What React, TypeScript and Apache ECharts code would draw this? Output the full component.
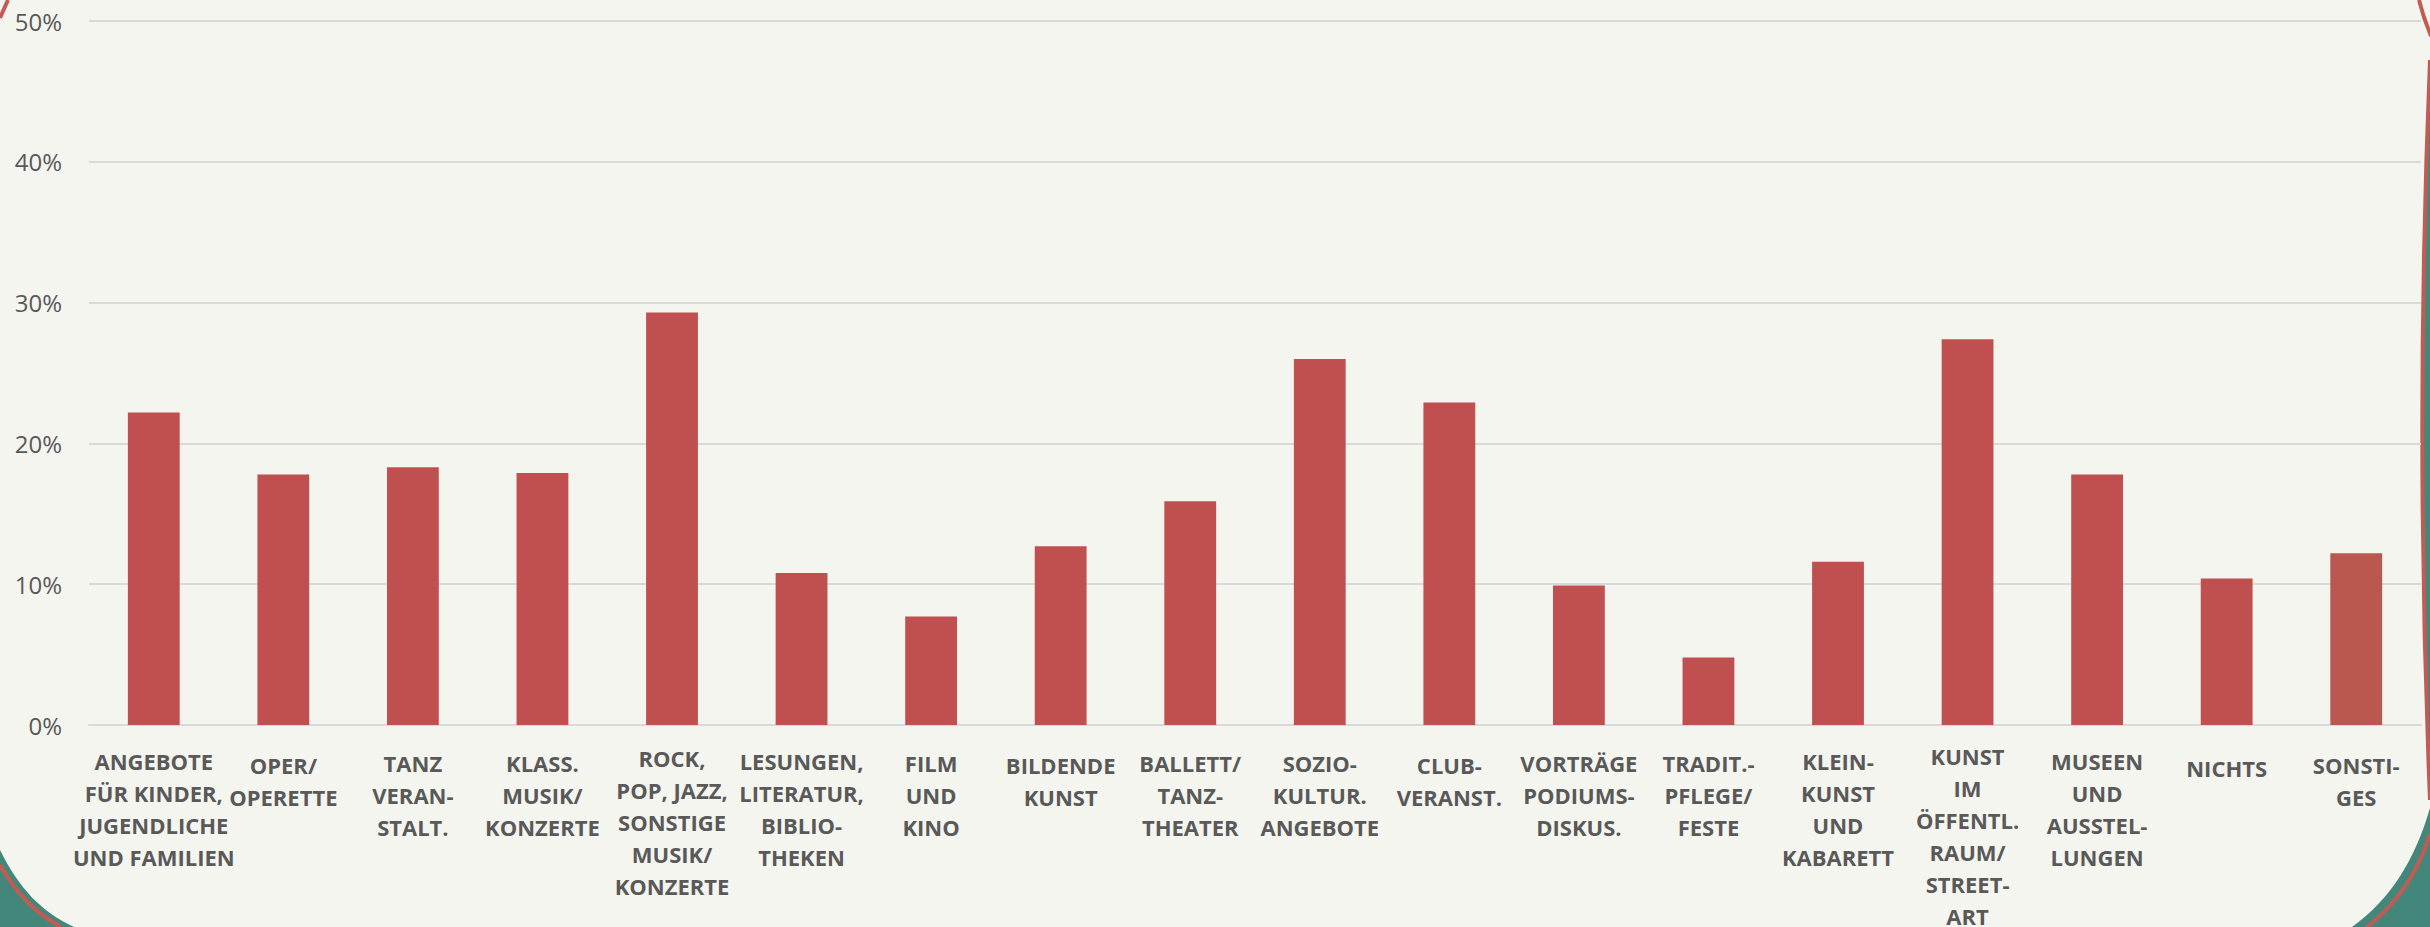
import React, { useEffect, useRef } from "react";
import * as echarts from "echarts";

const categories: string[] = [
  "ANGEBOTE\nFÜR KINDER,\nJUGENDLICHE\nUND FAMILIEN",
  "OPER/\nOPERETTE",
  "TANZ\nVERAN-\nSTALT.",
  "KLASS.\nMUSIK/\nKONZERTE",
  "ROCK,\nPOP, JAZZ,\nSONSTIGE\nMUSIK/\nKONZERTE",
  "LESUNGEN,\nLITERATUR,\nBIBLIO-\nTHEKEN",
  "FILM\nUND\nKINO",
  "BILDENDE\nKUNST",
  "BALLETT/\nTANZ-\nTHEATER",
  "SOZIO-\nKULTUR.\nANGEBOTE",
  "CLUB-\nVERANST.",
  "VORTRÄGE\nPODIUMS-\nDISKUS.",
  "TRADIT.-\nPFLEGE/\nFESTE",
  "KLEIN-\nKUNST\nUND\nKABARETT",
  "KUNST\nIM\nÖFFENTL.\nRAUM/\nSTREET-\nART",
  "MUSEEN\nUND\nAUSSTEL-\nLUNGEN",
  "NICHTS",
  "SONSTI-\nGES",
];

const values: number[] = [
  22.2, 17.8, 18.3, 17.9, 29.3, 10.8, 7.7, 12.7, 15.9, 26.0, 22.9, 9.9, 4.8, 11.6, 27.4, 17.8, 10.4, 12.2,
];

const yTicks: number[] = [0, 10, 20, 30, 40, 50];

const BAR = "#C0504F";
const BAR_LAST = "#B95750";
const TEAL = "#43877B";
const RED_LINE = "#C25B53";
const BG = "#F5F5F0";

let registered = false;
function registerShapes() {
  if (registered) return;
  registered = true;
  echarts.graphic.registerShape(
    "tealBL",
    echarts.graphic.extendPath("M0 850 C 20 890 42 912 74 927 L 0 927 Z", {})
  );
  echarts.graphic.registerShape(
    "tealBR",
    echarts.graphic.extendPath("M2430 808 C 2415 860 2390 900 2352 927 L 2430 927 Z", {})
  );
  echarts.graphic.registerShape(
    "tealR",
    echarts.graphic.extendPath("M2430 60 Q 2416 420 2430 800 Z", {})
  );
}

export default function App() {
  const ref = useRef<HTMLDivElement>(null);
  useEffect(() => {
    if (!ref.current) return;
    registerShapes();
    const chart = echarts.init(ref.current, undefined, { renderer: "svg" });
    const maxLines = Math.max(...categories.map((c) => c.split("\n").length));
    const catData = categories.map((c) => {
      const n = c.split("\n").length;
      return {
        value: c,
        textStyle: { padding: [Math.round((maxLines - n) * 2.3), 0, 0, 0] },
      };
    });
    chart.setOption({
      animation: false,
      backgroundColor: BG,
      grid: {
        left: 89,
        right: 9,
        top: 21,
        bottom: 202,
        containLabel: false,
        outerBoundsMode: "none",
      },
      xAxis: {
        type: "category",
        data: catData,
        axisLine: { show: true, lineStyle: { color: "#D9D9D9", width: 2 } },
        axisTick: { show: false },
        axisLabel: {
          interval: 0,
          margin: 15,
          fontFamily: "Open Sans",
          fontWeight: "bold",
          fontSize: 22,
          lineHeight: 32,
          color: "#595959",
          align: "center",
        },
      },
      yAxis: {
        type: "value",
        min: yTicks[0],
        max: yTicks[yTicks.length - 1],
        interval: 10,
        axisLine: { show: false },
        axisTick: { show: false },
        splitLine: { lineStyle: { color: "#D9D9D9", width: 2 } },
        axisLabel: {
          formatter: "{value}%",
          margin: 27,
          fontFamily: "Open Sans",
          fontSize: 24,
          color: "#595959",
        },
      },
      series: [
        {
          type: "bar",
          barWidth: "40%",
          data: values.map((v, i) => ({
            value: v,
            itemStyle: { color: i === values.length - 1 ? BAR_LAST : BAR },
          })),
        },
      ],
      graphic: [
        { type: "tealBL", x: 0, y: 0, style: { fill: TEAL }, silent: true },
        { type: "tealBR", x: 0, y: 0, style: { fill: TEAL }, silent: true },
        { type: "tealR", x: 0, y: 0, style: { fill: TEAL }, silent: true },
        {
          type: "bezierCurve",
          shape: { x1: 0, y1: 865, x2: 61, y2: 927, cpx1: 18, cpy1: 896, cpx2: 37, cpy2: 914 },
          style: { stroke: RED_LINE, lineWidth: 4, fill: null },
          silent: true,
        },
        {
          type: "bezierCurve",
          shape: { x1: 2430, y1: 834, x2: 2367, y2: 927, cpx1: 2416, cpy1: 877, cpx2: 2395, cpy2: 905 },
          style: { stroke: RED_LINE, lineWidth: 4, fill: null },
          silent: true,
        },
        {
          type: "bezierCurve",
          shape: { x1: 2430, y1: 60, x2: 2430, y2: 800, cpx1: 2420, cpy1: 300, cpx2: 2420, cpy2: 560 },
          style: { stroke: RED_LINE, lineWidth: 4, fill: null },
          silent: true,
        },
        {
          type: "bezierCurve",
          shape: { x1: 2419, y1: 0, x2: 2431, y2: 36, cpx1: 2422, cpy1: 12, cpx2: 2426, cpy2: 24 },
          style: { stroke: RED_LINE, lineWidth: 4, fill: null },
          silent: true,
        },
        {
          type: "line",
          shape: { x1: 0, y1: 18, x2: 8, y2: 0 },
          style: { stroke: RED_LINE, lineWidth: 4 },
          silent: true,
        },
      ],
    });
    return () => chart.dispose();
  }, []);
  return (
    <div
      ref={ref}
      style={{ position: "fixed", left: 0, top: 0, width: 2430, height: 927, background: BG }}
    />
  );
}
